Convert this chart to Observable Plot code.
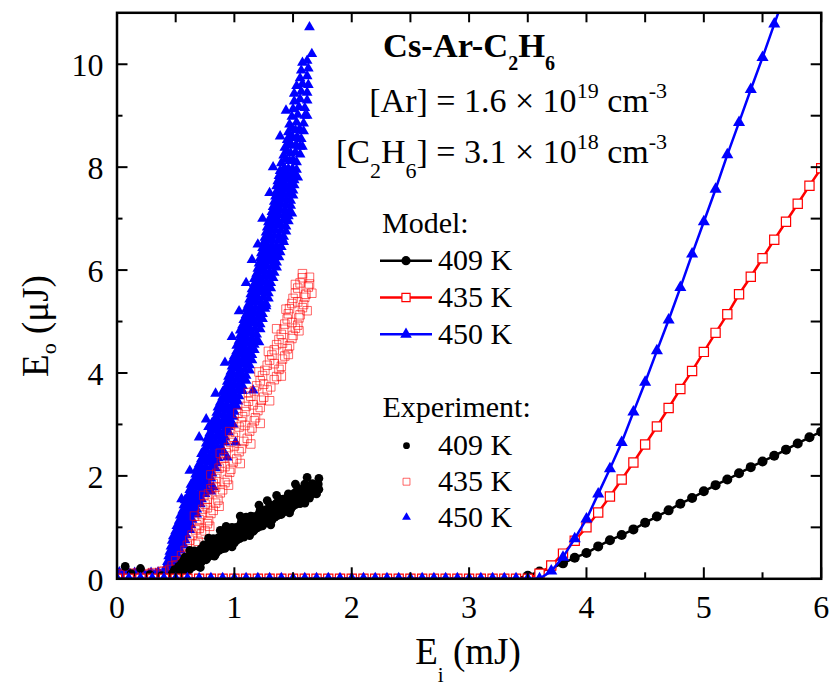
<!DOCTYPE html>
<html>
<head>
<meta charset="utf-8">
<script src="https://cdn.jsdelivr.net/npm/d3@7"></script>
<script src="https://cdn.jsdelivr.net/npm/@observablehq/plot@0.6"></script>
<style>
  body { margin: 0; background: #fff; }
  svg { display: block; }
  svg text, svg tspan { font-family: "Liberation Serif", "DejaVu Serif", "Noto Serif", "Times New Roman", Times, serif !important; white-space: pre; }
</style>
</head>
<body>
<div id="chart"></div>
<script>
// ---- Axis ticks ----
const xMajor = [0, 1, 2, 3, 4, 5, 6];
const xMinor = [0.5, 1.5, 2.5, 3.5, 4.5, 5.5];
const yMajor = [0, 2, 4, 6, 8, 10];
const yMinor = [1, 3, 5, 7, 9];

// ---- Model curves: input energy grid (mJ) and output energy (µJ) ----
const modelEi = [0.0,0.1,0.2,0.3,0.4,0.5,0.6,0.7,0.8,0.9,1.0,1.1,1.2,1.3,1.4,1.5,1.6,1.7,1.8,1.9,
  2.0,2.1,2.2,2.3,2.4,2.5,2.6,2.7,2.8,2.9,3.0,3.1,3.2,3.3,3.4,3.5,3.6,3.7,3.8,3.9,
  4.0,4.1,4.2,4.3,4.4,4.5,4.6,4.7,4.8,4.9,5.0,5.1,5.2,5.3,5.4,5.5,5.6,5.7,5.8,5.9,6.0];
const model409 = [0,0,0,0,0,0,0,0,0,0,0,0,0,0,0,0,0,0,0,0,
  0,0,0,0,0,0,0,0,0,0,0,0,0,0,0,0.06,0.14,0.21,0.30,0.41,
  0.50,0.63,0.75,0.85,0.96,1.09,1.21,1.33,1.46,1.57,1.70,1.82,1.93,2.05,2.17,2.28,2.39,2.51,2.63,2.75,2.86];
const model435 = [0,0,0,0,0,0,0,0,0,0,0,0,0,0,0,0,0,0,0,0,
  0,0,0,0,0,0,0,0,0,0,0,0,0,0,0,0,0.10,0.26,0.49,0.74,
  1.00,1.29,1.60,1.93,2.26,2.61,2.96,3.32,3.69,4.04,4.41,4.78,5.14,5.53,5.87,6.23,6.59,6.94,7.29,7.64,7.98];
const model450 = [0,0,0,0,0,0,0,0,0,0,0,0,0,0,0,0,0,0,0,0,
  0,0,0,0,0,0,0,0,0,0,0,0,0,0,0,0,0,0.15,0.42,0.78,
  1.16,1.65,2.14,2.65,3.24,3.82,4.43,5.03,5.66,6.31,6.94,7.57,8.24,8.87,9.51,10.13,10.78,11.42];

// ---- Experiment: [Ei (mJ), Eo (µJ)] ----
const exp409 = [
  [0.07,0.24],[0.20,0.20],[0.12,0.10],[0.28,0.08],[0.38,0.06],
  [0.47,0.03],[0.47,0.10],
  [0.495,0.02],[0.50,0.10],[0.49,0.18],
  [0.52,0.04],[0.52,0.15],[0.525,0.24],
  [0.545,0.08],[0.54,0.19],[0.55,0.30],
  [0.57,0.12],[0.575,0.25],[0.565,0.35],
  [0.595,0.16],[0.59,0.27],[0.60,0.38],
  [0.62,0.19],[0.625,0.32],[0.615,0.42],
  [0.645,0.23],[0.64,0.35],[0.65,0.47],
  [0.67,0.26],[0.675,0.39],[0.665,0.50],
  [0.695,0.30],[0.69,0.43],[0.70,0.54],
  [0.72,0.33],[0.725,0.46],[0.715,0.58],
  [0.745,0.37],[0.74,0.49],[0.75,0.62],
  [0.77,0.41],[0.775,0.54],[0.765,0.66],
  [0.795,0.45],[0.79,0.58],[0.80,0.69],
  [0.82,0.48],[0.825,0.61],[0.815,0.73],
  [0.845,0.51],[0.84,0.64],[0.85,0.77],
  [0.87,0.55],[0.875,0.68],[0.865,0.80],
  [0.895,0.58],[0.89,0.71],[0.90,0.84],
  [0.92,0.62],[0.925,0.75],[0.915,0.87],
  [0.945,0.65],[0.94,0.78],[0.95,0.90],
  [0.97,0.69],[0.975,0.81],[0.965,0.94],
  [0.995,0.72],[0.99,0.84],[1.00,0.97],
  [1.02,0.75],[1.025,0.88],[1.015,1.00],
  [1.045,0.78],[1.04,0.91],[1.05,1.04],
  [1.07,0.82],[1.075,0.95],[1.065,1.07],
  [1.095,0.85],[1.09,0.98],[1.10,1.11],
  [1.12,0.88],[1.125,1.01],[1.115,1.14],
  [1.145,0.92],[1.14,1.05],[1.15,1.17],
  [1.17,0.95],[1.175,1.08],[1.165,1.21],
  [1.195,0.99],[1.19,1.11],[1.20,1.24],
  [1.22,1.02],[1.225,1.15],[1.215,1.27],
  [1.245,1.06],[1.24,1.18],[1.25,1.31],
  [1.27,1.09],[1.275,1.22],[1.265,1.34],
  [1.295,1.13],[1.29,1.25],[1.30,1.38],
  [1.32,1.16],[1.325,1.29],[1.315,1.41],
  [1.345,1.20],[1.34,1.32],[1.35,1.45],
  [1.37,1.23],[1.375,1.36],[1.365,1.48],
  [1.395,1.27],[1.39,1.39],[1.40,1.52],
  [1.42,1.30],[1.425,1.43],[1.415,1.55],
  [1.445,1.34],[1.44,1.46],[1.45,1.58],
  [1.47,1.37],[1.475,1.49],[1.465,1.61],
  [1.495,1.40],[1.49,1.52],[1.50,1.64],
  [1.52,1.44],[1.525,1.56],[1.515,1.67],
  [1.545,1.47],[1.54,1.59],[1.55,1.70],
  [1.57,1.51],[1.575,1.62],[1.565,1.73],
  [1.595,1.54],[1.59,1.65],[1.60,1.76],
  [1.62,1.58],[1.625,1.69],[1.615,1.79],
  [1.645,1.62],[1.64,1.72],[1.65,1.82],
  [1.67,1.66],[1.675,1.76],[1.665,1.85],
  [1.695,1.70],[1.69,1.80],
  [1.72,1.74],[1.715,1.84],
  [1.62,1.97],[1.72,1.95],[0.88,0.94],[1.10,1.20],[1.28,1.52],
  [0.71,0.22],[0.83,0.44],[0.98,0.62],[1.13,0.84],[1.31,1.05],[1.47,1.28],[1.60,1.47],
  [0.62,0.55],[0.78,0.79],[0.93,1.02],[1.05,1.22],[1.21,1.43],[1.36,1.62],[1.52,1.84],
  [0.58,0.42],[0.66,0.54],[0.74,0.66],[0.82,0.78],[0.90,0.89],[0.98,1.00],[1.06,1.11],[1.14,1.22],
  [1.22,1.33],[1.30,1.44],[1.38,1.55],[1.46,1.65],[1.54,1.76],[1.60,1.84],
  [0.60,0.13],[0.68,0.25],[0.76,0.37],[0.84,0.48],[0.92,0.59],[1.00,0.70],[1.08,0.81],[1.16,0.92],
  [1.24,1.03],[1.32,1.14],[1.40,1.25],[1.48,1.35],[1.56,1.46],[1.64,1.57],[1.70,1.65]
];
const exp435 = [
  [0.02,0.10],[0.06,0.08],[0.10,0.11],[0.14,0.09],[0.18,0.12],[0.22,0.08],[0.26,0.10],[0.30,0.12],[0.34,0.09],[0.38,0.14],
  [0.40,0.15],[0.45,0.18],
  [0.47,0.25],[0.51,0.27],
  [0.50,0.35],[0.56,0.33],
  [0.55,0.45],[0.60,0.47],
  [0.58,0.55],[0.64,0.53],
  [0.60,0.65],[0.67,0.67],
  [0.62,0.75],[0.69,0.73],
  [0.64,0.85],[0.72,0.87],
  [0.67,0.95],[0.75,0.93],[0.70,0.98],
  [0.68,1.05],[0.77,1.07],
  [0.70,1.15],[0.78,1.13],
  [0.72,1.25],[0.80,1.27],
  [0.73,1.35],[0.82,1.33],[0.77,1.38],
  [0.75,1.45],[0.84,1.47],
  [0.77,1.55],[0.86,1.53],
  [0.78,1.65],[0.88,1.67],
  [0.80,1.75],[0.90,1.73],[0.84,1.78],
  [0.82,1.85],[0.92,1.87],
  [0.84,1.95],[0.94,1.93],
  [0.85,2.05],[0.96,2.07],
  [0.87,2.15],[0.97,2.13],[0.92,2.18],
  [0.89,2.25],[0.99,2.27],
  [0.91,2.35],[1.02,2.33],
  [0.93,2.45],[1.04,2.47],
  [0.95,2.55],[1.06,2.53],[1.00,2.58],
  [0.97,2.65],[1.08,2.67],
  [0.99,2.75],[1.11,2.73],
  [1.01,2.85],[1.13,2.87],
  [1.04,2.95],[1.15,2.93],[1.09,2.98],
  [1.06,3.05],[1.17,3.07],
  [1.07,3.15],[1.18,3.13],
  [1.09,3.25],[1.20,3.27],
  [1.10,3.35],[1.22,3.33],[1.16,3.38],
  [1.12,3.45],[1.23,3.47],
  [1.14,3.55],[1.25,3.53],
  [1.17,3.65],[1.28,3.67],
  [1.19,3.75],[1.31,3.73],[1.25,3.78],
  [1.22,3.85],[1.34,3.87],
  [1.24,3.95],[1.36,3.93],
  [1.26,4.05],[1.38,4.07],
  [1.28,4.15],[1.40,4.13],[1.34,4.18],
  [1.30,4.25],[1.41,4.27],
  [1.32,4.35],[1.43,4.33],
  [1.34,4.45],[1.45,4.47],
  [1.36,4.55],[1.47,4.53],[1.41,4.58],
  [1.38,4.65],[1.49,4.67],
  [1.40,4.75],[1.50,4.73],
  [1.42,4.85],[1.52,4.87],
  [1.43,4.95],[1.54,4.93],[1.49,4.98],
  [1.45,5.05],[1.55,5.07],
  [1.46,5.15],[1.56,5.13],
  [1.47,5.25],[1.58,5.27],
  [1.49,5.35],[1.59,5.33],[1.54,5.38],
  [1.50,5.45],[1.60,5.47],
  [1.52,5.55],[1.61,5.53],
  [1.54,5.65],[1.63,5.67],
  [1.56,5.75],[1.64,5.73],
  [1.58,5.85],[1.64,5.86],
  [1.58,5.93],
  [0.66,1.22],[0.74,1.62],[0.80,2.02],[0.88,2.44],[0.96,2.86],[1.03,3.22],[1.12,3.62],[1.21,4.02],[1.29,4.42],[1.36,4.86],[1.44,5.24],[1.52,5.72],
  [0.79,1.02],[0.87,1.41],[0.95,1.82],[1.05,2.24],[1.14,2.62],[1.22,3.02],[1.30,3.46],[1.40,3.94],[1.46,4.36],[1.55,4.82],[1.62,5.21],[1.66,5.55]
];
const exp450 = [
  [0.00,0.10],[0.02,0.13],[0.03,0.07],[0.05,0.11],[0.07,0.09],[0.09,0.14],[0.11,0.10],[0.13,0.06],[0.15,0.12],[0.17,0.09],
  [0.19,0.13],[0.21,0.07],[0.23,0.10],[0.25,0.05],[0.27,0.09],[0.29,0.12],[0.31,0.07],[0.33,0.10],[0.35,0.13],[0.37,0.08],[0.39,0.11],
  [0.40,0.13],[0.44,0.17],[0.47,0.15],
  [0.42,0.24],[0.46,0.28],[0.49,0.25],
  [0.43,0.33],[0.47,0.37],[0.51,0.35],
  [0.44,0.44],[0.49,0.47],[0.52,0.45],
  [0.45,0.53],[0.50,0.57],[0.54,0.55],
  [0.46,0.63],[0.52,0.67],[0.57,0.65],
  [0.47,0.74],[0.53,0.78],[0.58,0.75],
  [0.48,0.83],[0.54,0.87],[0.59,0.85],
  [0.50,0.93],[0.56,0.97],[0.62,0.95],
  [0.51,1.03],[0.57,1.07],[0.63,1.05],
  [0.53,1.13],[0.59,1.17],[0.64,1.15],
  [0.54,1.23],[0.60,1.27],[0.68,1.25],
  [0.56,1.33],[0.63,1.37],[0.68,1.35],
  [0.57,1.43],[0.64,1.47],[0.71,1.45],
  [0.58,1.53],[0.66,1.57],[0.72,1.55],
  [0.61,1.63],[0.67,1.67],[0.75,1.65],
  [0.62,1.73],[0.70,1.77],[0.76,1.75],
  [0.63,1.83],[0.71,1.87],[0.78,1.85],
  [0.66,1.93],[0.73,1.97],[0.80,1.95],
  [0.67,2.03],[0.75,2.07],[0.81,2.05],
  [0.68,2.13],[0.76,2.17],[0.84,2.15],
  [0.70,2.23],[0.78,2.27],[0.85,2.25],
  [0.72,2.33],[0.79,2.37],[0.86,2.35],
  [0.72,2.43],[0.81,2.47],[0.89,2.45],
  [0.75,2.53],[0.82,2.57],[0.89,2.55],
  [0.76,2.63],[0.84,2.67],[0.92,2.65],
  [0.77,2.73],[0.85,2.77],[0.92,2.75],
  [0.79,2.83],[0.87,2.87],[0.95,2.85],
  [0.81,2.93],[0.88,2.97],[0.95,2.95],
  [0.81,3.03],[0.90,3.07],[0.97,3.05],
  [0.84,3.13],[0.91,3.17],[0.99,3.15],
  [0.85,3.23],[0.93,3.27],[1.00,3.25],
  [0.86,3.33],[0.94,3.37],[1.02,3.35],
  [0.88,3.43],[0.96,3.47],[1.03,3.45],
  [0.90,3.53],[0.97,3.57],[1.04,3.55],
  [0.90,3.63],[0.99,3.67],[1.07,3.65],
  [0.93,3.73],[1.00,3.77],[1.07,3.75],
  [0.94,3.83],[1.02,3.87],[1.10,3.85],
  [0.95,3.93],[1.03,3.97],[1.10,3.95],
  [0.97,4.03],[1.05,4.07],[1.13,4.05],
  [0.98,4.13],[1.06,4.17],[1.13,4.15],
  [0.98,4.23],[1.07,4.27],[1.15,4.25],
  [1.00,4.33],[1.08,4.37],[1.15,4.35],
  [1.02,4.43],[1.09,4.47],[1.17,4.45],
  [1.02,4.53],[1.10,4.57],[1.17,4.55],
  [1.04,4.63],[1.11,4.67],[1.19,4.65],
  [1.05,4.73],[1.12,4.77],[1.19,4.75],
  [1.05,4.83],[1.13,4.87],[1.22,4.85],
  [1.07,4.93],[1.14,4.97],[1.22,4.95],
  [1.08,5.03],[1.16,5.07],[1.24,5.05],
  [1.10,5.13],[1.17,5.17],[1.24,5.15],
  [1.10,5.23],[1.18,5.27],[1.26,5.25],
  [1.12,5.33],[1.19,5.37],[1.27,5.35],
  [1.13,5.43],[1.20,5.47],[1.29,5.45],
  [1.14,5.53],[1.22,5.57],[1.29,5.55],
  [1.15,5.63],[1.23,5.67],[1.31,5.65],
  [1.17,5.73],[1.24,5.77],[1.31,5.75],
  [1.17,5.83],[1.25,5.87],[1.33,5.85],
  [1.19,5.93],[1.26,5.97],[1.34,5.95],
  [1.20,6.03],[1.28,6.07],[1.36,6.05],
  [1.21,6.13],[1.29,6.17],[1.36,6.15],
  [1.22,6.23],[1.30,6.27],[1.38,6.25],
  [1.23,6.33],[1.31,6.37],[1.39,6.35],
  [1.24,6.43],[1.32,6.47],[1.40,6.45],
  [1.25,6.53],[1.33,6.57],[1.42,6.55],
  [1.26,6.63],[1.34,6.67],[1.42,6.65],
  [1.27,6.73],[1.35,6.77],[1.44,6.75],
  [1.28,6.83],[1.36,6.87],[1.44,6.85],
  [1.29,6.93],[1.37,6.97],[1.46,6.95],
  [1.31,7.03],[1.38,7.07],[1.46,7.05],
  [1.32,7.13],[1.39,7.17],[1.47,7.15],
  [1.33,7.23],[1.40,7.27],[1.48,7.25],
  [1.34,7.33],[1.41,7.37],[1.48,7.35],
  [1.35,7.43],[1.42,7.47],[1.50,7.45],
  [1.36,7.53],[1.42,7.57],[1.50,7.55],
  [1.36,7.63],[1.43,7.67],[1.51,7.65],
  [1.37,7.73],[1.44,7.77],[1.51,7.75],
  [1.38,7.83],[1.45,7.87],[1.52,7.85],
  [1.39,7.93],[1.46,7.97],[1.53,7.95],
  [1.40,8.08],[1.47,8.12],[1.53,8.10],
  [1.42,8.23],[1.48,8.27],[1.56,8.25],
  [1.43,8.38],[1.49,8.42],[1.56,8.40],
  [1.45,8.53],[1.50,8.57],[1.57,8.55],
  [1.46,8.68],[1.52,8.72],[1.59,8.70],
  [1.47,8.83],[1.53,8.87],[1.59,8.85],
  [1.49,8.98],[1.54,9.02],[1.60,9.00],
  [1.50,9.13],[1.55,9.17],[1.60,9.15],
  [1.51,9.28],[1.56,9.32],[1.62,9.30],
  [1.51,9.43],[1.57,9.47],[1.62,9.45],
  [1.53,9.58],[1.58,9.62],[1.63,9.60],
  [1.56,9.73],[1.62,9.77],
  [1.57,9.88],[1.63,9.92],
  [1.58,10.03],[1.62,10.07],
  [1.66,10.20],[1.64,10.72],
  [0.78,2.95],[0.82,1.78],[0.94,2.36],[1.01,2.65],[1.16,3.66],
  [0.55,1.55],[0.62,2.10],[0.70,2.75],[0.76,3.10],[0.84,3.60],[0.92,4.20],[0.98,4.70],[1.04,5.20],
  [1.10,5.75],[1.15,6.20],[1.20,6.50],[1.24,7.00],[1.30,7.50],[1.33,8.00],[1.39,8.60],[1.44,9.10],
  [0.66,1.30],[0.80,1.70],[0.90,2.50],[0.99,3.00],[1.08,3.90],[1.21,4.60],[1.27,5.30],[1.34,6.10],
  [1.41,6.60],[1.49,7.10],[1.54,7.80],[1.58,8.40],[1.62,9.00],
  [0.42,0.19],[0.455,0.17],[0.44,0.30],[0.475,0.28],[0.45,0.39],[0.49,0.37],[0.465,0.50],[0.505,0.48],
  [0.475,0.59],[0.52,0.57],[0.49,0.69],[0.545,0.67],[0.50,0.80],[0.555,0.78],[0.51,0.89],[0.565,0.87],
  [0.53,0.99],[0.59,0.97],[0.54,1.09],[0.60,1.07],[0.56,1.19],[0.615,1.17],[0.57,1.29],[0.64,1.27],
  [0.595,1.39],[0.655,1.37],[0.605,1.49],[0.675,1.47],[0.62,1.59],[0.69,1.57],[0.64,1.69],[0.71,1.67],
  [0.66,1.79],[0.73,1.77],[0.67,1.89],[0.745,1.87],[0.695,1.99],[0.765,1.97],[0.71,2.09],[0.78,2.07],
  [0.72,2.19],[0.80,2.17],[0.74,2.29],[0.815,2.27],[0.755,2.39],[0.825,2.37],[0.765,2.49],[0.85,2.47],
  [0.785,2.59],[0.855,2.57],[0.80,2.69],[0.88,2.67],[0.81,2.79],[0.885,2.77],[0.83,2.89],[0.91,2.87],
  [0.845,2.99],[0.915,2.97],[0.855,3.09],[0.935,3.07],[0.875,3.19],[0.95,3.17],[0.89,3.29],[0.965,3.27],
  [0.90,3.39],[0.98,3.37],[0.92,3.49],[0.995,3.47],[0.935,3.59],[1.005,3.57],[0.945,3.69],[1.03,3.67],
  [0.965,3.79],[1.035,3.77],[0.98,3.89],[1.06,3.87],[0.99,3.99],[1.065,3.97],[1.01,4.09],[1.09,4.07],
  [1.02,4.19],[1.095,4.17],[1.025,4.29],[1.11,4.27],[1.04,4.39],[1.115,4.37],[1.055,4.49],[1.13,4.47],
  [1.06,4.59],[1.135,4.57],[1.075,4.69],[1.15,4.67],[1.085,4.79],[1.155,4.77],[1.09,4.89],[1.175,4.87],
  [1.105,4.99],[1.18,4.97],[1.12,5.09],[1.20,5.07],[1.135,5.19],[1.205,5.17],[1.14,5.29],[1.22,5.27],
  [1.155,5.39],[1.23,5.37],[1.165,5.49],[1.245,5.47],[1.18,5.59],[1.255,5.57],[1.19,5.69],[1.27,5.67],
  [1.205,5.79],[1.275,5.77],[1.21,5.89],[1.29,5.87],[1.225,5.99],[1.30,5.97],[1.24,6.09],[1.32,6.07],
  [1.25,6.19],[1.325,6.17],[1.26,6.29],[1.34,6.27],[1.27,6.39],[1.35,6.37],[1.28,6.49],[1.36,6.47],
  [1.29,6.59],[1.375,6.57],[1.30,6.69],[1.38,6.67],[1.31,6.79],[1.395,6.77],[1.32,6.89],[1.40,6.87],
  [1.33,6.99],[1.415,6.97],[1.345,7.09],[1.42,7.07],[1.355,7.19],[1.43,7.17],[1.365,7.29],[1.44,7.27],
  [1.375,7.39],[1.445,7.37],[1.385,7.49],[1.46,7.47],[1.39,7.59],[1.46,7.57],[1.395,7.69],[1.47,7.67],
  [1.405,7.79],[1.475,7.77],[1.415,7.89],[1.485,7.87],[1.425,7.99],[1.495,7.97],[1.435,8.16],[1.50,8.14],
  [1.45,8.31],[1.52,8.29],[1.46,8.46],[1.525,8.44],[1.475,8.61],[1.535,8.59],[1.49,8.76],[1.555,8.74]
];

// ---- Layout ----
const W = 833, H = 689;
const margin = {top: 12.3, right: 12.3, bottom: 110.7, left: 116.5};
const frameH = H - margin.top - margin.bottom;
const frameW = W - margin.left - margin.right;
const serif = "\"Liberation Serif\", \"DejaVu Serif\", \"Noto Serif\", \"Times New Roman\", Times, serif";

// marker radii (Plot symbol area = π r²)
const R = {modelCircle: 5.0, modelSquare: 5.2, modelTriangle: 4.5, expCircle: 4.4, expSquare: 4.8, expTriangle: 4.0};

const series = (ys) => ys.map((y, i) => ({Ei: modelEi[i], Eo: y}));
const m409 = series(model409), m435 = series(model435), m450 = series(model450);

const chart = Plot.plot({
  width: W, height: H,
  marginTop: margin.top, marginRight: margin.right, marginBottom: margin.bottom, marginLeft: margin.left,
  style: {fontFamily: serif, background: "white", color: "black"},
  x: {domain: [0, 6], axis: null},
  y: {domain: [0, 11], axis: null},
  marks: [
    // experimental points
    Plot.dot(exp450, {x: d => d[0], y: d => d[1], symbol: "triangle", r: R.expTriangle, fill: "#0000ff", stroke: "none", clip: true}),
    Plot.dot(exp435, {x: d => d[0], y: d => d[1], symbol: "square", r: R.expSquare, fill: "none", stroke: "#ff0000", strokeOpacity: 0.6, strokeWidth: 1, clip: true}),
    Plot.dot(exp409, {x: d => d[0], y: d => d[1], symbol: "circle", r: R.expCircle, fill: "black", stroke: "none", clip: true}),
    // model curves
    Plot.line(m409, {x: "Ei", y: "Eo", stroke: "black", strokeWidth: 2.5, clip: true}),
    Plot.dot(m409, {x: "Ei", y: "Eo", symbol: "circle", r: R.modelCircle, fill: "black", stroke: "none", clip: true}),
    Plot.line(m435, {x: "Ei", y: "Eo", stroke: "#ff0000", strokeWidth: 2.5, clip: true}),
    Plot.dot(m435, {x: "Ei", y: "Eo", symbol: "square", r: R.modelSquare, fill: "white", stroke: "#ff0000", strokeWidth: 1.2, clip: true}),
    Plot.line(m450, {x: "Ei", y: "Eo", stroke: "#0000ff", strokeWidth: 2.5, clip: true}),
    Plot.dot(m450, {x: "Ei", y: "Eo", symbol: "triangle", r: R.modelTriangle, fill: "#0000ff", stroke: "none", clip: true}),
    // inward ticks: bottom/left with major+minor lengths, top/right uniform
    Plot.tickX(xMajor, {x: d => d, insetTop: frameH - 11, stroke: "black", strokeWidth: 2}),
    Plot.tickX(xMinor, {x: d => d, insetTop: frameH - 6, stroke: "black", strokeWidth: 2}),
    Plot.tickX(xMajor.concat(xMinor), {x: d => d, insetBottom: frameH - 10, stroke: "black", strokeWidth: 2}),
    Plot.tickY(yMajor, {y: d => d, insetRight: frameW - 11, stroke: "black", strokeWidth: 2}),
    Plot.tickY(yMinor, {y: d => d, insetRight: frameW - 6, stroke: "black", strokeWidth: 2}),
    Plot.tickY(yMajor.concat(yMinor), {y: d => d, insetLeft: frameW - 10, stroke: "black", strokeWidth: 2}),
    // tick labels
    Plot.text(xMajor, {x: d => d, text: d => String(d), frameAnchor: "bottom", lineAnchor: "bottom", dy: 39, fontSize: 32, fill: "black"}),
    Plot.text(yMajor, {y: d => d, text: d => String(d), frameAnchor: "left", textAnchor: "end", lineAnchor: "bottom", dx: -13.5, dy: 12, fontSize: 32, fill: "black"}),
    Plot.frame({stroke: "black", strokeWidth: 2.5})
  ]
});

document.getElementById("chart").appendChild(chart);

// ---- Titles, annotation and legend (text with sub/superscripts) ----
const svg = d3.select(chart);
const ann = svg.append("g").attr("font-family", serif).attr("fill", "black").attr("text-anchor", "start");

function richText(parent, x, y, parts, o) {
  const t = parent.append("text").attr("x", x).attr("y", y)
    .attr("font-size", o.size).attr("text-anchor", o.anchor || "start")
    .attr("font-weight", o.weight || "normal");
  if (o.transform) t.attr("transform", o.transform);
  let shift = 0;
  for (const p of parts) {
    const [str, kind] = Array.isArray(p) ? p : [p, null];
    const target = kind === "sub" ? o.sub : kind === "sup" ? -o.sup : 0;
    const ts = t.append("tspan").text(str);
    if (target - shift !== 0) ts.attr("dy", target - shift);
    if (kind) ts.attr("font-size", o.scriptSize);
    shift = target;
  }
  return t;
}

// axis titles
richText(ann, 468, 664, ["E", ["i", "sub"], " (mJ)"], {size: 37, anchor: "middle", sub: 18, scriptSize: 21});
richText(ann, 0, 0, ["E", ["o", "sub"], " (\u03bcJ)"], {size: 37, anchor: "middle", sub: 8, scriptSize: 22, transform: "translate(48,326) rotate(-90)"});

// system and densities
richText(ann, 383, 57, ["Cs-Ar-C", ["2", "sub"], "H", ["6", "sub"]], {size: 34.5, weight: "bold", sub: 13, scriptSize: 20});
richText(ann, 667, 112, ["[Ar] = 1.6 \u00d7 10", ["19", "sup"], " cm", ["-3", "sup"]], {size: 34, anchor: "end", sup: 14, scriptSize: 22});
richText(ann, 667, 163, ["[C", ["2", "sub"], "H", ["6", "sub"], "] = 3.1 \u00d7 10", ["18", "sup"], " cm", ["-3", "sup"]], {size: 34, anchor: "end", sub: 15, sup: 14, scriptSize: 22});

// legend
const legendModel = [
  {label: "409 K", color: "black", symbol: d3.symbolCircle, r: 4.6, fill: "black", y: 260.7},
  {label: "435 K", color: "#ff0000", symbol: d3.symbolSquare, r: 4.6, fill: "white", y: 297.5},
  {label: "450 K", color: "#0000ff", symbol: d3.symbolTriangle, r: 4.3, fill: "#0000ff", y: 334.3}
];
const legendExp = [
  {label: "409 K", symbol: d3.symbolCircle, r: 3.4, fill: "black", stroke: "none", y: 445.7},
  {label: "435 K", symbol: d3.symbolSquare, r: 3.9, fill: "none", stroke: "#ff0000", y: 481.7},
  {label: "450 K", symbol: d3.symbolTriangle, r: 3.3, fill: "#0000ff", stroke: "none", y: 517.3}
];
const sym = (type, r) => d3.symbol(type, Math.PI * r * r)();

ann.append("text").attr("x", 382).attr("y", 233).attr("font-size", 30).attr("text-anchor", "start").text("Model:");
for (const d of legendModel) {
  ann.append("line").attr("x1", 380).attr("x2", 432).attr("y1", d.y).attr("y2", d.y)
    .attr("stroke", d.color).attr("stroke-width", 2.5);
  ann.append("path").attr("d", sym(d.symbol, d.r)).attr("transform", `translate(406,${d.y})`)
    .attr("fill", d.fill).attr("stroke", d.fill === "white" ? d.color : "none").attr("stroke-width", 1.2);
  ann.append("text").attr("x", 438).attr("y", d.y + 9.5).attr("font-size", 30).attr("text-anchor", "start").text(d.label);
}
ann.append("text").attr("x", 382.5).attr("y", 417.3).attr("font-size", 30).attr("text-anchor", "start").text("Experiment:");
for (const d of legendExp) {
  ann.append("path").attr("d", sym(d.symbol, d.r)).attr("transform", `translate(406.5,${d.y})`)
    .attr("fill", d.fill).attr("stroke", d.stroke).attr("stroke-opacity", 0.6).attr("stroke-width", 1);
  ann.append("text").attr("x", 438).attr("y", d.y + 9.2).attr("font-size", 30).attr("text-anchor", "start").text(d.label);
}
</script>
</body>
</html>
